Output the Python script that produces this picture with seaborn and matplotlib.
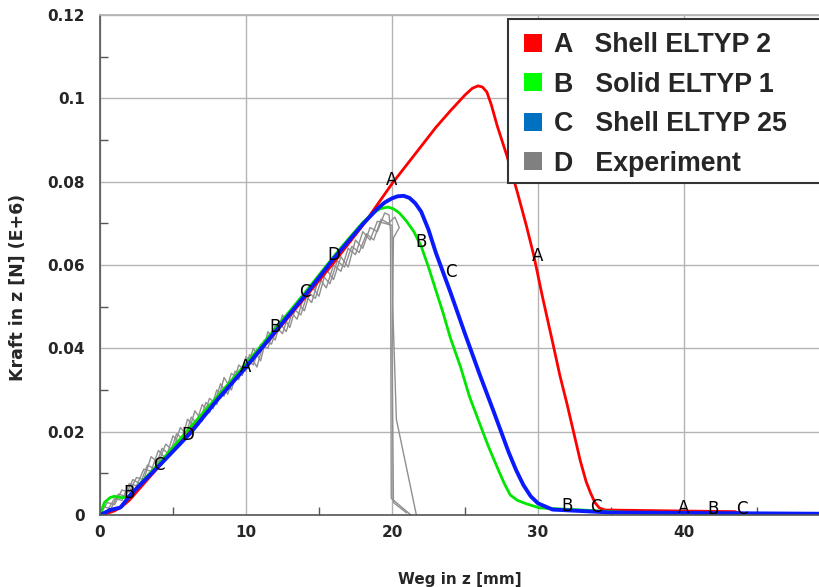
import numpy as np
import pandas as pd
import matplotlib
matplotlib.use('Agg')
import matplotlib.pyplot as plt
from matplotlib.patches import Patch, Rectangle
from matplotlib.ticker import MultipleLocator
import seaborn as sns

# simulation A - Shell ELTYP 2
a_x = [0, 0.5, 1, 1.5, 2, 3, 4, 6, 8, 10, 12, 14, 16, 18, 20, 21, 22, 23, 24, 25, 25.5,
       25.9, 26.2, 26.5, 26.8, 27.2, 27.9, 28.6, 29.2, 29.7, 30.3, 31, 31.5, 32, 32.5,
       32.9, 33.3, 33.6, 33.9, 34.2, 34.6, 43.5, 44, 49.3]
a_y = [0, 0.0004, 0.001, 0.002, 0.0035, 0.0075, 0.0115, 0.0195, 0.0275, 0.0355, 0.0437,
       0.052, 0.0605, 0.0695, 0.0795, 0.084, 0.0885, 0.093, 0.097, 0.1008, 0.1024,
       0.103, 0.1027, 0.1015, 0.0985, 0.0935, 0.0859, 0.0773, 0.0695, 0.0625, 0.0525,
       0.0415, 0.0335, 0.0265, 0.019, 0.013, 0.008, 0.0053, 0.003, 0.0017, 0.0012,
       0.0008, 0.0002, 0.0002]

# simulation B - Solid ELTYP 1
b_x = [0, 0.3, 0.7, 1.0, 1.4, 1.8, 2.2, 3, 4, 6, 8, 10, 12, 14, 16, 17, 18, 18.7, 19.2,
       19.7, 20.1, 20.5, 21, 21.5, 22, 22.5, 23, 23.5, 24, 24.7, 25.3, 26, 26.6, 27.2,
       27.7, 28.1, 28.6, 29.2, 30.1, 33, 35, 38, 49.3]
b_y = [0, 0.003, 0.0042, 0.0045, 0.0042, 0.0042, 0.0052, 0.0085, 0.0122, 0.0203, 0.0283,
       0.0363, 0.0447, 0.0532, 0.062, 0.0662, 0.0702, 0.0725, 0.0735, 0.0739, 0.0735,
       0.0725, 0.0705, 0.068, 0.0645, 0.0595, 0.054, 0.0485, 0.0425, 0.0355, 0.0285,
       0.022, 0.0165, 0.0115, 0.0075, 0.0048, 0.0035, 0.0027, 0.0017, 0.0012, 0.0008,
       0.0003, 0.0002]

# simulation C - Shell ELTYP 25
c_x = [0, 0.7, 1.4, 2.2, 4.1, 6.2, 8, 10, 12, 14, 16, 18, 19, 19.5, 20, 20.4, 20.8, 21.2,
       21.6, 22, 22.5, 23, 24, 25, 26, 27, 28, 28.5, 29, 29.5, 30, 31, 35, 49.3]
c_y = [0, 0.0012, 0.0018, 0.0053, 0.012, 0.0197, 0.0275, 0.0355, 0.044, 0.0525, 0.0615,
       0.0698, 0.0735, 0.075, 0.076, 0.0765, 0.0766, 0.0761, 0.0748, 0.0728, 0.0685,
       0.063, 0.0535, 0.0435, 0.0338, 0.0245, 0.015, 0.0108, 0.0072, 0.0045, 0.0028,
       0.0013, 0.0006, 0.0003]

# experiment D - three measured traces
d1_x = [0, 0.5, 1, 1.5, 2, 2.5, 3, 3.5, 4, 4.5, 5, 5.5, 6, 6.5, 7, 7.5, 8, 8.5, 9, 9.5,
        10, 10.5, 11, 11.5, 12, 12.5, 13, 13.5, 14, 14.5, 15, 15.5, 16, 16.5, 17, 17.5,
        18, 18.5, 19, 19.5, 19.8, 19.9, 19.95, 21.3]
d1_y = [0, 0.003, 0.0025, 0.006, 0.0055, 0.009, 0.0085, 0.014, 0.0125, 0.017, 0.0155,
        0.021, 0.019, 0.025, 0.0225, 0.028, 0.0265, 0.033, 0.030, 0.036, 0.0345, 0.040,
        0.037, 0.044, 0.042, 0.048, 0.045, 0.051, 0.049, 0.055, 0.0525, 0.059, 0.0565,
        0.062, 0.0595, 0.066, 0.064, 0.069, 0.068, 0.0725, 0.072, 0.068, 0.004, 0.0]
d2_x = [0, 0.5, 1, 1.5, 2, 2.5, 3, 3.5, 4, 4.5, 5, 5.5, 6, 6.5, 7, 7.5, 8, 8.5, 9, 9.5,
        10, 10.5, 11, 11.5, 12, 12.5, 13, 13.5, 14, 14.5, 15, 15.5, 16, 16.5, 17, 17.5,
        18, 18.5, 19, 19.5, 20.0, 20.05, 20.3, 21.7]
d2_y = [0, 0.001, 0.004, 0.0035, 0.0075, 0.007, 0.011, 0.0105, 0.0155, 0.0135, 0.019,
        0.017, 0.023, 0.021, 0.0265, 0.0245, 0.030, 0.0285, 0.034, 0.0325, 0.038, 0.036,
        0.041, 0.040, 0.0455, 0.0435, 0.049, 0.047, 0.053, 0.051, 0.057, 0.0545, 0.060,
        0.0585, 0.064, 0.0625, 0.068, 0.066, 0.0705, 0.070, 0.0695, 0.05, 0.023, -0.0005]
d3_x = [0, 0.25, 0.75, 1.25, 1.75, 2.25, 2.75, 3.25, 3.75, 4.25, 4.75, 5.25, 5.75, 6.25,
        6.75, 7.25, 7.75, 8.25, 8.75, 9.25, 9.75, 10.25, 10.75, 11.25, 11.75, 12.25,
        12.75, 13.25, 13.75, 14.25, 14.75, 15.25, 15.75, 16.25, 16.75, 17.25, 17.75,
        18.25, 18.75, 19.25, 19.75, 20.2, 20.5, 20.1, 20.0, 20.1, 21.0]
d3_y = [0, 0.002, 0.0015, 0.005, 0.0045, 0.0085, 0.0075, 0.012, 0.011, 0.016, 0.0145,
        0.0195, 0.018, 0.0235, 0.0215, 0.027, 0.0255, 0.0315, 0.029, 0.0345, 0.0335,
        0.0385, 0.0355, 0.042, 0.041, 0.0465, 0.044, 0.0495, 0.048, 0.0535, 0.052,
        0.0575, 0.0555, 0.061, 0.0595, 0.0645, 0.063, 0.0675, 0.066, 0.071, 0.070,
        0.0715, 0.069, 0.0665, 0.04, 0.003, 0.0005]

# curve markers (letters on the curves)
mark_a_x = [10, 20, 30, 40]
mark_a_y = [0.0355, 0.0804, 0.0622, 0.0017]
mark_b_x = [2, 12, 22, 32, 42]
mark_b_y = [0.0053, 0.0451, 0.0655, 0.0022, 0.0014]
mark_c_x = [4, 14, 24, 34, 44]
mark_c_y = [0.012, 0.0535, 0.0583, 0.0019, 0.0014]
mark_d_x = [6, 16]
mark_d_y = [0.0192, 0.0624]

legend_names = ['Shell ELTYP 2', 'Solid ELTYP 1', 'Shell ELTYP 25', 'Experiment']
legend_letters = ['A', 'B', 'C', 'D']
legend_colors = ['#ff0000', '#00ff00', '#0070c0', '#808080']

sns.set_theme(style='white')
plt.rcParams['font.family'] = ['DejaVu Sans']

fig = plt.figure(figsize=(8.19, 5.87), dpi=100)
ax = fig.add_axes([100/819, 1 - 515/587, 1 - 100/819, 500/587])

grey = '#8f8f8f'
for xs, ys in [(d1_x, d1_y), (d2_x, d2_y), (d3_x, d3_y)]:
    sns.lineplot(x=xs, y=ys, ax=ax, color=grey, lw=1.0, sort=False, estimator=None)
sns.lineplot(x=a_x, y=a_y, ax=ax, color='#ff0000', lw=2.0, sort=False, estimator=None)
sns.lineplot(x=b_x, y=b_y, ax=ax, color='#00e600', lw=2.0, sort=False, estimator=None)
sns.lineplot(x=c_x, y=c_y, ax=ax, color='#0a1aff', lw=2.8, sort=False, estimator=None)

for letter, mx, my in [('A', mark_a_x, mark_a_y), ('B', mark_b_x, mark_b_y),
                       ('C', mark_c_x, mark_c_y), ('D', mark_d_x, mark_d_y)]:
    for px, py in zip(mx, my):
        ax.text(px, py, letter, ha='center', va='center', fontsize=12, color='black',
                fontweight='medium')

ax.set_xlim(0, 49.25)
ax.set_ylim(0, 0.12)
ax.xaxis.set_major_locator(MultipleLocator(10))
ax.xaxis.set_minor_locator(MultipleLocator(5))
ax.yaxis.set_minor_locator(MultipleLocator(0.01))
ax.set_yticks([0, 0.02, 0.04, 0.06, 0.08, 0.1, 0.12])
ax.set_yticklabels(['0', '0.02', '0.04', '0.06', '0.08', '0.1', '0.12'])
ax.grid(True, which='major', color='#b4b4b4', lw=1.0)
ax.tick_params(which='both', direction='in', left=True, bottom=True, color='#555555',
               labelsize=11)
ax.tick_params(axis='y', pad=11)
ax.tick_params(axis='x', pad=7)
ax.tick_params(which='major', length=0)
ax.tick_params(which='minor', length=6, width=1)
for lab in ax.get_xticklabels() + ax.get_yticklabels():
    lab.set_fontweight('bold')

for side in ['left', 'bottom']:
    ax.spines[side].set_color('#555555')
    ax.spines[side].set_linewidth(1.2)
ax.spines['top'].set_color('#b4b4b4')
ax.spines['right'].set_visible(False)

ax.set_xlabel('Weg in z [mm]', fontsize=11, fontweight='bold', labelpad=23)
ax.set_ylabel('Kraft in z [N] (E+6)', fontsize=12.5, fontweight='bold')
ax.yaxis.set_label_coords(-0.102, 0.456)

# legend frame runs past the right edge of the picture
ax.add_patch(Rectangle((508/819, 1 - 183/587), 0.5, 164/587, transform=fig.transFigure,
                       facecolor='white', edgecolor='#333333', lw=1.5, zorder=6,
                       clip_on=False))
handles = [Patch(facecolor=c, edgecolor='none') for c in legend_colors]
labels = [l + '   ' + n for l, n in zip(legend_letters, legend_names)]
leg = ax.legend(handles, labels, loc='upper left', bbox_to_anchor=(511/819, 1 - 19/587),
                bbox_transform=fig.transFigure, frameon=False,
                prop={'family': 'Liberation Sans', 'weight': 'bold', 'size': 19.3},
                handlelength=0.66, handleheight=0.66, handletextpad=0.45,
                labelspacing=0.5, borderpad=0.5, borderaxespad=0)
leg.set_zorder(7)

fig.savefig('out.png', dpi=100)
